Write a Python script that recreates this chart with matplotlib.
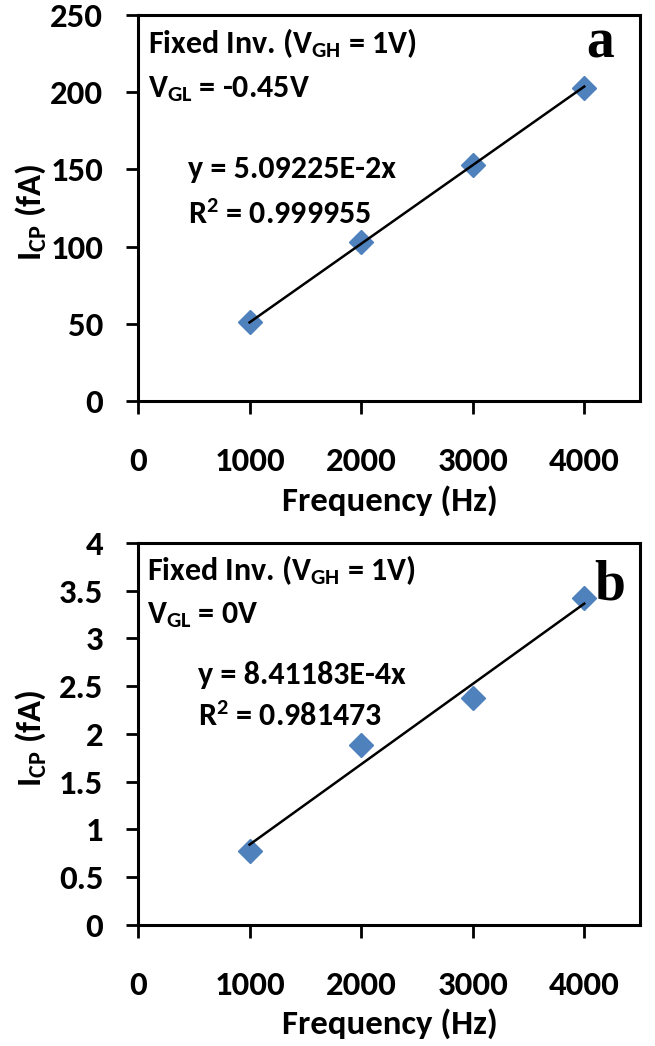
import numpy as np
import matplotlib
matplotlib.use("Agg")
import matplotlib.pyplot as plt

# data
freq = [1000, 2000, 3000, 4000]
icp_a = [51, 103, 153, 203]
icp_b = [0.77, 1.88, 2.38, 3.42]
slope_a = 5.09225e-2
slope_b = 8.41183e-4
xticks = [0, 1000, 2000, 3000, 4000]
yticks_a = [0, 50, 100, 150, 200, 250]
yticks_b = [0, 0.5, 1, 1.5, 2, 2.5, 3, 3.5, 4]
ylabels_b = ["0", "0.5", "1", "1.5", "2", "2.5", "3", "3.5", "4"]

fnt = "Carlito"
plt.rcParams["font.family"] = [fnt, "DejaVu Sans"]
plt.rcParams["font.weight"] = "bold"
plt.rcParams["mathtext.fontset"] = "custom"
plt.rcParams["mathtext.rm"] = fnt + ":bold"
plt.rcParams["mathtext.it"] = fnt + ":bold"
plt.rcParams["mathtext.bf"] = fnt + ":bold"
plt.rcParams["mathtext.default"] = "rm"

blue = "#4F81BD"

fig = plt.figure(figsize=(6.55, 10.46), dpi=100)
ax1 = fig.add_axes([0.2107, 0.6166, 0.7664, 0.369])
ax2 = fig.add_axes([0.2107, 0.1157, 0.7664, 0.3652])


def style(ax, yticks, ylabels, ymax):
    ax.set_xlim(0, 4500)
    ax.set_ylim(0, ymax)
    ax.set_xticks(xticks)
    ax.set_yticks(yticks)
    ax.set_yticklabels(ylabels)
    for s in ax.spines.values():
        s.set_linewidth(2.2)
    ax.tick_params(axis="both", direction="out", length=9, width=2, labelsize=25)
    ax.tick_params(axis="x", pad=24)
    ax.tick_params(axis="y", pad=16)
    ax.set_xlabel("Frequency (Hz)", fontsize=25, fontweight="bold")
    ax.set_ylabel("I$_{CP}$ (fA)", fontsize=25, fontweight="bold")
    ax.yaxis.set_label_coords(-0.18, 0.49)


def notes(ax, lines, letter, letter_pos):
    for x, y, s in lines:
        ax.text(x, y, s, transform=ax.transAxes, fontsize=23,
                va="baseline", ha="left")
    ax.text(letter_pos[0], letter_pos[1], letter, transform=ax.transAxes,
            fontsize=40, family="Liberation Serif", fontweight="bold",
            va="baseline", ha="right")


# panel a
fx = np.array([freq[0], freq[-1]])
ax1.plot(freq, icp_a, "D", color=blue, markersize=11.8, zorder=2)
ax1.plot(fx, slope_a * fx, "-", color="black", lw=1.8, zorder=3)
style(ax1, yticks_a, [str(v) for v in yticks_a], 250)
ax1.xaxis.set_label_coords(0.502, -0.218)
notes(ax1, [(0.02, 0.902, "Fixed Inv. (V$_{GH}$ = 1V)"),
            (0.02, 0.788, "V$_{GL}$ = -0.45V"),
            (0.1, 0.578, "y = 5.09225E-2x"),
            (0.1, 0.458, "R$^{2}$ = 0.999955")],
      "a", (0.948, 0.891))

# panel b
ax2.plot(freq, icp_b, "D", color=blue, markersize=11.8, zorder=2)
ax2.plot(fx, slope_b * fx, "-", color="black", lw=1.8, zorder=3)
style(ax2, yticks_b, ylabels_b, 4)
ax2.xaxis.set_label_coords(0.502, -0.217)
notes(ax2, [(0.018, 0.903, "Fixed Inv. (V$_{GH}$ = 1V)"),
            (0.018, 0.79, "V$_{GL}$ = 0V"),
            (0.119, 0.632, "y = 8.41183E-4x"),
            (0.119, 0.52, "R$^{2}$ = 0.981473")],
      "b", (0.970, 0.851))

fig.savefig("out.png", dpi=100)
